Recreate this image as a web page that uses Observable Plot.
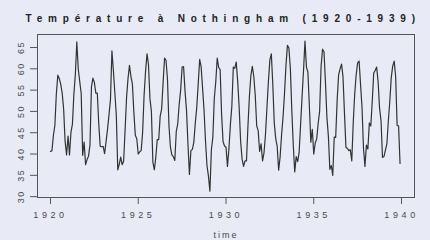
<!DOCTYPE html>
<html><head><meta charset="utf-8">
<script src="https://cdn.jsdelivr.net/npm/d3@7"></script>
<script src="https://cdn.jsdelivr.net/npm/@observablehq/plot@0.6"></script>
<style>
html,body{margin:0;padding:0;background:#e8ebf5;}
svg text{font-family:"Liberation Sans",Arial,sans-serif;}
</style>
</head><body>
<div id="chart"></div>
<script>
const title = "Température à Nothingham (1920-1939)";
const xLabel = "time";
const startYear = 1920;
const temps = [
40.6,40.8,44.4,46.7,54.1,58.5,57.7,56.4,54.3,50.5,42.9,39.8,
44.2,39.8,45.1,47.0,54.1,58.7,66.3,59.9,57.0,54.2,39.7,42.8,
37.5,38.7,39.5,42.1,55.7,57.8,56.8,54.3,54.3,47.1,41.8,41.7,
41.8,40.1,42.9,45.8,49.2,52.7,64.2,59.6,54.4,49.2,36.3,37.6,
39.3,37.5,38.3,45.5,53.2,57.7,60.8,58.2,56.4,49.8,44.4,43.6,
40.0,40.5,40.8,45.1,53.8,59.4,63.5,61.0,53.0,50.0,38.1,36.3,
39.2,43.4,43.4,48.9,50.6,56.8,62.5,62.0,57.5,46.7,41.6,39.8,
39.4,38.5,45.3,47.1,51.7,55.0,60.4,60.5,54.7,50.3,42.3,35.2,
40.8,41.1,42.8,47.3,50.9,56.4,62.2,60.5,55.4,50.2,43.0,37.3,
34.8,31.3,41.0,43.9,53.1,56.9,62.5,60.3,59.8,49.2,42.9,41.9,
41.6,37.1,41.2,46.9,51.2,60.4,60.1,61.6,57.0,50.9,43.0,38.8,
37.1,38.4,38.4,46.5,53.5,58.4,60.6,58.2,53.8,46.6,45.5,40.6,
42.4,38.4,40.3,44.6,50.9,57.0,62.1,63.5,56.3,47.3,43.6,41.8,
36.2,39.3,44.5,48.7,54.2,60.8,65.5,64.9,60.1,50.2,42.1,35.8,
39.4,38.2,40.4,46.9,53.4,59.6,66.5,60.4,59.2,51.2,42.8,45.8,
40.0,42.6,43.5,47.1,50.0,60.5,64.6,64.0,56.8,48.6,44.2,36.4,
37.3,35.0,44.0,43.9,52.7,58.6,60.0,61.1,58.1,49.6,41.6,41.3,
40.8,41.0,38.4,47.4,54.1,58.6,61.4,61.8,56.3,50.9,41.4,37.1,
42.1,41.2,47.3,46.6,52.4,59.0,59.6,60.4,57.0,50.7,47.8,39.2,
39.4,40.9,42.4,47.8,52.4,58.0,60.7,61.8,58.2,46.7,46.6,37.8
];
const xTicks = [1920,1925,1930,1935,1940];
const yTicks = [30,35,40,45,50,55,60,65];

const data = temps.map((v,i)=>({t: startYear + i/12, v}));

const ink = "#4a4a4a";
const plot = Plot.plot({
  width: 430, height: 240,
  marginLeft: 37, marginRight: 16, marginTop: 34, marginBottom: 43,
  style: {background: "transparent", color: ink, fontSize: "9px"},
  x: {domain: [1919.26, 1940.74]},
  y: {domain: [29.8, 68.05]},
  marks: [
    Plot.frame({stroke: "#555", strokeWidth: 1}),
    Plot.axisX({ticks: xTicks, tickSize: 7, tickPadding: 7, tickFormat: d=>String(d),
      label: xLabel, labelAnchor: "center", labelArrow: "none", labelOffset: 40, stroke:"#555"}),
    Plot.axisY({ticks: yTicks, tickSize: 7, tickPadding: 7, tickRotate: -90, label: null, stroke:"#555"}),
    Plot.line(data, {x: "t", y: "v", stroke: "#333", strokeWidth: 1.2}),
    Plot.text([title], {frameAnchor: "top-left", dx: -12, dy: -20, text: d=>d,
      fontSize: 10, fontWeight: "bold", textAnchor: "start", fill: "#222"})
  ]
});
document.getElementById("chart").appendChild(plot);
const svg = d3.select(plot);
svg.selectAll("[aria-label='x-axis tick label'] text").style("letter-spacing","3.6px");
svg.selectAll("[aria-label='y-axis tick label'] text").style("letter-spacing","1.5px");
svg.selectAll("[aria-label='x-axis label'] text").style("letter-spacing","2px");
svg.selectAll("[aria-label='text'] text").style("letter-spacing","5.8px");
</script>
</body></html>
